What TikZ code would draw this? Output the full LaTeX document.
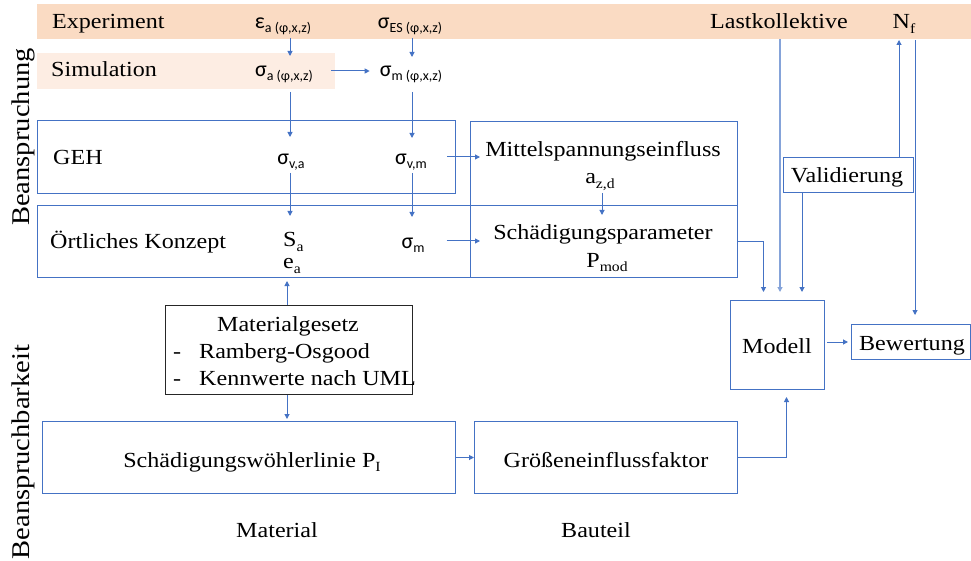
\documentclass[tikz,border=0pt]{standalone}
\usepackage{fontspec}
\setmainfont[FakeStretch=1.12]{Liberation Serif}
\newfontfamily\calib{Carlito}
\usetikzlibrary{arrows.meta,calc}
\definecolor{bl}{HTML}{4472C4}
\definecolor{peach}{HTML}{FADBC3}
\definecolor{peachl}{HTML}{FDEDE3}
\newcommand\gsub[1]{\raisebox{-4pt}{\fontsize{14}{14}\selectfont #1}}
\newcommand\gs[2]{{\calib\fontsize{22}{22}\selectfont #1\gsub{#2}}}
\newcommand\ssub[1]{\raisebox{-4.5pt}{\fontsize{14}{14}\selectfont #1}}
\begin{document}
\begin{tikzpicture}[x=1pt,y=-1pt,
  every node/.style={inner sep=0pt,font=\fontsize{21.5}{26}\selectfont},
  box/.style={draw=bl,line width=1pt,anchor=north west},
  lab/.style={anchor=base},
  arr/.style={draw=bl,line width=1pt,-{Triangle[length=5pt,width=5pt]}},
  ln/.style={draw=bl,line width=1pt}]
\useasboundingbox (0,0) rectangle (971,561);
% bands
\fill[peach] (37,4) rectangle (971,39);
\fill[peachl] (37,53) rectangle (335,89);
% boxes
\node[box,minimum width=418pt,minimum height=73pt] (geh) at (37,120) {};
\node[box,minimum width=433pt,minimum height=72pt] (oert) at (37,205) {};
\node[box,minimum width=267pt,minimum height=84pt] (mittel) at (470,121) {};
\node[box,minimum width=267pt,minimum height=72pt] (schaed) at (470,205) {};
\node[box,minimum width=130pt,minimum height=35pt] (valid) at (783,157) {};
\node[box,minimum width=94pt,minimum height=89pt] (modell) at (730,300) {};
\node[box,minimum width=119pt,minimum height=35pt] (bew) at (851,324) {};
\node[box,minimum width=263pt,minimum height=72pt] (groesse) at (474,421) {};
\node[box,minimum width=413pt,minimum height=72pt] (woehler) at (42,421) {};
\node[box,draw=black!85] (matbox) at (165,305) [minimum width=247pt,minimum height=89pt] {};
% rotated labels
\node[rotate=90,anchor=base] (beans) at (29,137) {\fontsize{25.5}{28}\selectfont Beanspruchung};
\node[rotate=90,anchor=base] (beansb) at (29,452) {\fontsize{25.5}{28}\selectfont Beanspruchbarkeit};
% texts
\node[anchor=base west] (expT) at (52,29) {Experiment};
\node[lab] (eps) at (283,29) {\gs{ε}{a (φ,x,z)}};
\node[lab] (sigES) at (410,29) {\gs{σ}{ES (φ,x,z)}};
\node[lab] (lastT) at (779,29) {Lastkollektive};
\node[lab] (Nf) at (904,29) {N\ssub{f}};
\node[anchor=base west] (simT) at (51,77) {Simulation};
\node[lab] (siga) at (284,77) {\gs{σ}{a (φ,x,z)}};
\node[lab] (sigm) at (411,77) {\gs{σ}{m (φ,x,z)}};
\node[anchor=base west] (gehT) at (53,165) {GEH};
\node[lab] (sigva) at (291,165) {\gs{σ}{v,a}};
\node[lab] (sigvm) at (411,165) {\gs{σ}{v,m}};
\node[anchor=base west] (oertT) at (50,248) {Örtliches Konzept};
\node[anchor=base west] (Sa) at (283,247) {S\ssub{a}};
\node[anchor=base west] (ea) at (283,269) {e\ssub{a}};
\node[lab] (sigm2) at (413,248) {\gs{σ}{m}};
\node[lab] (mittelT) at (603,157) {Mittelspannungseinfluss};
\node[lab] (azd) at (600,184) {a\ssub{z,d}};
\node[lab] (schaedT) at (603,240) {Schädigungsparameter};
\node[lab] (Pmod) at (607,267) {P\ssub{mod}};
\node[lab] (validT) at (847,183) {Validierung};
\node[lab] (modellT) at (777,353) {Modell};
\node[lab] (bewT) at (912,350) {Bewertung};
\node[lab] (matT) at (288,331) {Materialgesetz};
\node[anchor=base west] (d1) at (173,358) {-};
\node[anchor=base west] (ramb) at (199,358) {Ramberg-Osgood};
\node[anchor=base west] (d2) at (173,385) {-};
\node[anchor=base west] (kenn) at (199,385) {Kennwerte nach UML};
\node[lab] (woehT) at (252,467) {Schädigungswöhlerlinie P\ssub{I}};
\node[lab] (groesT) at (606,467) {Größeneinflussfaktor};
\node[lab] (materialT) at (277,537) {Material};
\node[lab] (bauteilT) at (596,537) {Bauteil};
% column coordinates
\coordinate (cA) at (290,0);
\coordinate (cB) at (412,0);
\coordinate (cD) at (602,0);
\coordinate (cM) at (287,0);
\coordinate (cL) at (780,0);
\coordinate (cV) at (802,0);
\coordinate (cN1) at (899,0);
\coordinate (cN2) at (915,0);
% connectors
\draw[arr] ($(cA|-eps.base)+(0,9)$) -- ($(cA|-siga.base)+(0,-21)$);
\draw[arr] ($(cB|-sigES.base)+(0,9)$) -- ($(cB|-sigm.base)+(0,-20)$);
\draw[arr] ($(siga.base east)+(18,-6)$) -- ($(sigm.base west)+(-10,-6)$);
\draw[arr] ($(cA|-siga.base)+(0,15)$) -- ($(cA|-sigva.base)+(0,-28)$);
\draw[arr] ($(cB|-sigm.base)+(0,15)$) -- ($(cB|-sigvm.base)+(0,-27)$);
\draw[arr] ($(cA|-sigva.base)+(0,8)$) -- ($(cA|-Sa.base)+(0,-31)$);
\draw[arr] ($(cB|-sigvm.base)+(0,8)$) -- ($(cB|-sigm2.base)+(0,-31)$);
\draw[arr] ($(sigvm.base east)+(20,-8)$) -- ($(mittel.west|-sigvm.base)+(10,-8)$);
\draw[arr] ($(sigm2.base east)+(22,-7)$) -- ($(schaed.west|-sigm2.base)+(10,-7)$);
\draw[arr] ($(cD|-azd.base)+(0,9)$) -- ($(cD|-schaed.north)+(0,10)$);
\draw[arr] (cM|-matbox.north) -- ($(cM|-ea.base)+(0,12)$);
\draw[arr] (cM|-matbox.south) -- ($(cM|-woehler.north)+(0,-2)$);
\draw[arr] (woehler.east) -- (groesse.west);
\draw[arr] (groesse.east) -| ($(modell.south)+(9,7)$);
\draw[arr] (schaed.east) -| ($(modell.north)+(-14,-8)$);
\draw[arr,draw=bl!65,line width=1.6pt] ($(cL|-lastT.base)+(0,10)$) -- ($(cL|-modell.north)+(0,-8)$);
\draw[arr] (cV|-valid.south) -- ($(cV|-modell.north)+(0,-8)$);
\draw[arr] (cN1|-valid.north) -- ($(cN1|-Nf.base)+(0,11)$);
\draw[arr] ($(cN2|-Nf.base)+(0,11)$) -- ($(cN2|-bew.north)+(0,-9)$);
\draw[arr,shorten <=2pt,shorten >=3pt] (modell.east|-bew.west) -- (bew.west);
\end{tikzpicture}
\end{document}
